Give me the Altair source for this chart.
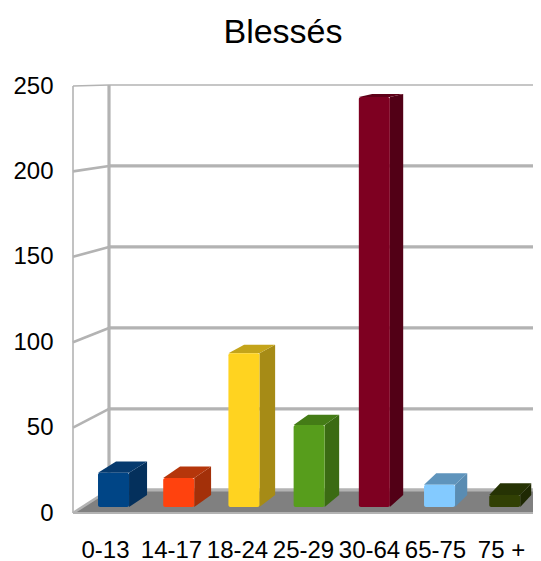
import json
import altair as alt
import pandas as pd

categories = ["0-13", "14-17", "18-24", "25-29", "30-64", "65-75", "75 +"]
values = [20, 17, 90, 48, 240, 13, 7]
front_colors = ["#004586", "#ff420e", "#ffd320", "#579d1c", "#7e0021", "#83caff", "#314004"]
side_colors = ["#04305c", "#a33009", "#a68b16", "#3b6b13", "#520016", "#5a8cb2", "#1f2903"]
top_colors = ["#063a6e", "#b5360b", "#c4a41a", "#447c16", "#5e0018", "#5f94bc", "#263304"]
y_ticks = [0, 50, 100, 150, 200, 250]

# Scale geometry, in data units
X_MIN, X_MAX = -0.485, 6.485
BAR_START, BAR_STEP, BAR_W = -0.106, 0.988, 0.47
BASE = 3.5
WALL_X = 0.0606
BACK_0, BACK_K = 13.5, 0.9484


def back(v):
    return BACK_0 + v * BACK_K


def depth_x(i):
    return 0.273 - 0.0177 * i


def depth_y(v):
    return 7.03 - 0.022 * v


x_scale = alt.Scale(domain=[X_MIN, X_MAX], nice=False, zero=False)
y_scale = alt.Scale(domain=[0, 250], nice=False, zero=True)
FONT = "Liberation Sans"
label_expr = "%s[round(datum.value)]" % json.dumps(categories)

x_enc = alt.X(
    "x:Q", scale=x_scale, title=None,
    axis=alt.Axis(values=list(range(len(categories))), labelExpr=label_expr, ticks=False,
                  domain=False, grid=False, labelFont=FONT, labelFontSize=24,
                  labelColor="#000000", labelPadding=25, labelOverlap=False,
                  labelAngle=0, labelAlign="center", labelFlush=False),
)
y_enc = alt.Y(
    "y:Q", scale=y_scale, title=None,
    axis=alt.Axis(values=y_ticks, ticks=False, domain=False, grid=False, labelFont=FONT,
                  labelFontSize=24, labelColor="#000000", labelPadding=20,
                  labelOverlap=False),
)
x_plain = alt.X("x:Q", scale=x_scale)
y_plain = alt.Y("y:Q", scale=y_scale)

GRID = "#b3b3b3"

floor = pd.DataFrame([
    dict(x=X_MIN, y=0, y2=0),
    dict(x=WALL_X, y=0, y2=BACK_0),
    dict(x=X_MAX, y=0, y2=BACK_0),
])
floor_layer = alt.Chart(floor).mark_area(color="#808080", clip=True).encode(x=x_enc, y=y_enc, y2="y2:Q")

back_lines = pd.DataFrame([dict(x=WALL_X, x2=X_MAX, y=back(t), w=3.2 if t < 250 else 1.6) for t in y_ticks])
back_layer = alt.Chart(back_lines).mark_rule(color=GRID).encode(
    x=x_plain, x2="x2:Q", y=y_plain, strokeWidth=alt.StrokeWidth("w:Q", scale=None),
)

wall_v = pd.DataFrame([dict(x=WALL_X, y=back(0), y2=back(250))])
wall_layer = alt.Chart(wall_v).mark_rule(color=GRID, strokeWidth=3.2).encode(x=x_plain, y=y_plain, y2="y2:Q")

left_v = pd.DataFrame([dict(x=X_MIN, y=0, y2=250)])
left_layer = alt.Chart(left_v).mark_rule(color=GRID, strokeWidth=1.6).encode(x=x_plain, y=y_plain, y2="y2:Q")

front_edge = pd.DataFrame([dict(x=X_MIN, x2=X_MAX, y=0)])
edge_layer = alt.Chart(front_edge).mark_rule(color=GRID, strokeWidth=2).encode(x=x_plain, x2="x2:Q", y=y_plain)

slants = []
for t in y_ticks:
    slants += [dict(t=t, x=X_MIN, y=t), dict(t=t, x=WALL_X, y=back(t))]
slant_df = pd.DataFrame(slants)
slant_df["w"] = [1.6 if t == 250 else 2.6 for t in slant_df["t"]]
slant_layer = alt.Chart(slant_df).mark_line(color=GRID).encode(
    x=x_plain, y=y_plain, detail="t:N", strokeWidth=alt.StrokeWidth("w:Q", scale=None),
)

bar_layers = []
for i, (cat, v) in enumerate(zip(categories, values)):
    x0 = BAR_START + BAR_STEP * i
    x1 = x0 + BAR_W
    dx, dy = depth_x(i), depth_y(v)
    bot, top = BASE, BASE + v
    side = pd.DataFrame([
        dict(x=x1, y=bot, y2=top),
        dict(x=x1 + dx, y=bot + depth_y(0), y2=top + dy),
    ])
    cap = pd.DataFrame([
        dict(x=x0, y=top, y2=top),
        dict(x=x0 + dx, y=top, y2=top + dy),
        dict(x=x1, y=top, y2=top + dy),
        dict(x=x1 + dx, y=top + dy, y2=top + dy),
    ])
    face = pd.DataFrame([dict(cat=cat, x=x0, x2=x1, y=bot, y2=top)])
    bar_layers += [
        alt.Chart(side).mark_area(color=side_colors[i]).encode(x=x_plain, y=y_plain, y2="y2:Q"),
        alt.Chart(cap).mark_area(color=top_colors[i]).encode(x=x_plain, y=y_plain, y2="y2:Q"),
        alt.Chart(face).mark_bar(color=front_colors[i], cornerRadius=2).encode(
            x=x_plain, x2="x2:Q", y=y_plain, y2="y2:Q"),
    ]

chart = alt.layer(
    floor_layer, back_layer, wall_layer, left_layer, slant_layer, edge_layer, *bar_layers,
).properties(
    width=460,
    height=427,
    autosize=alt.AutoSizeParams(type="none"),
    padding={"left": 65, "top": 78, "right": 0, "bottom": 48},
    title=alt.TitleParams("Blessés", font=FONT, fontSize=34, fontWeight="normal",
                          color="#000000", anchor="middle", offset=24, dx=-20),
).configure_view(stroke=None)

chart.save("out.html", embed_options={"renderer": "svg", "actions": False})
